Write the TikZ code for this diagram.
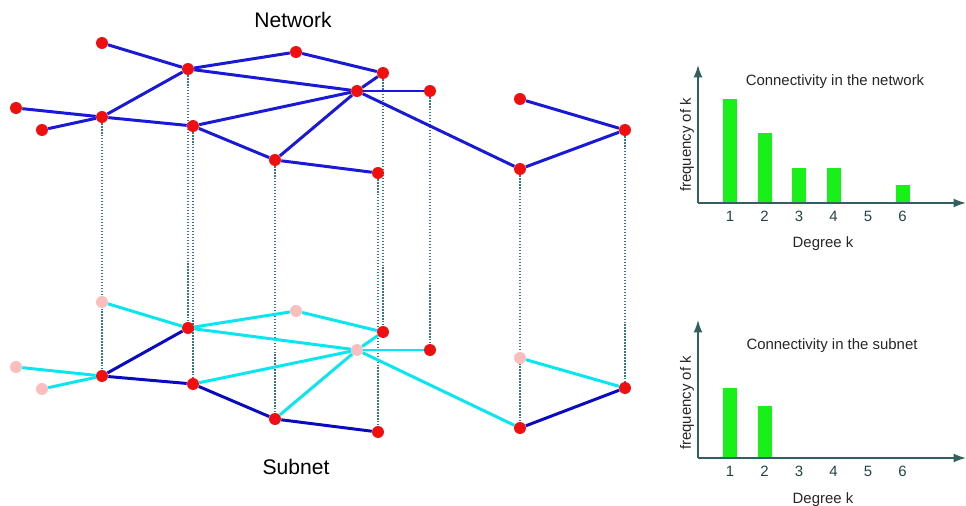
\documentclass[tikz,border=0pt]{standalone}
\usepackage{fontspec}
\setmainfont{Liberation Sans}
\usetikzlibrary{arrows.meta}
\definecolor{netblue}{RGB}{25,25,215}
\definecolor{subblue}{RGB}{10,10,195}
\definecolor{subcyan}{RGB}{10,230,240}
\definecolor{dotred}{RGB}{240,15,15}
\definecolor{dotpink}{RGB}{250,190,190}
\definecolor{droptl}{RGB}{55,120,130}
\definecolor{axisgray}{RGB}{50,95,95}
\definecolor{bargreen}{RGB}{25,240,25}
\pgfdeclarelayer{background}
\pgfsetlayers{background,main}
\begin{document}
\begin{tikzpicture}[x=0.02cm,y=-0.02cm,
  dot/.style={circle,fill=dotred,inner sep=0pt,minimum size=6.8pt},
  pale/.style={circle,fill=dotpink,inner sep=0pt,minimum size=6.8pt},
  link/.style={netblue,line width=1.7pt},
  sublink/.style={subblue,line width=1.7pt},
  faint/.style={subcyan,line width=1.7pt},
  drop/.style={droptl,densely dotted,line width=0.7pt},
  axis/.style={axisgray,line width=0.9pt,-{Latex[length=7pt,width=5pt]}},
  bar/.style={fill=bargreen},
  lbl/.style={font=\fontsize{8.5}{10}\selectfont,text=black!85},
  num/.style={font=\fontsize{8.5}{10}\selectfont,text=axisgray!70!black},
  title/.style={font=\fontsize{12}{14}\selectfont}]
\useasboundingbox (0,0) rectangle (966,506);
\node[title] (net) at (293,20) {Network};
\node[title] (sub) at (296,467) {Subnet};
\node[dot] (n1) at (102,43) {};
\node[dot] (n2) at (188,69) {};
\node[dot] (n3) at (296,52) {};
\node[dot] (n4) at (383,73) {};
\node[dot] (n5) at (357,91) {};
\node[dot] (n6) at (430,91) {};
\node[dot] (n7) at (16,108) {};
\node[dot] (n8) at (42,130) {};
\node[dot] (n9) at (102,117) {};
\node[dot] (n10) at (193,126) {};
\node[dot] (n11) at (275,160) {};
\node[dot] (n12) at (378,173) {};
\node[dot] (n13) at (520,99) {};
\node[dot] (n14) at (625,130) {};
\node[dot] (n15) at (520,169) {};
\draw[link] (n1) -- (n2);
\draw[link] (n2) -- (n3);
\draw[link] (n3) -- (n4);
\draw[link] (n2) -- (n5);
\draw[link] (n4) -- (n5);
\draw[link] (n5) -- (n6);
\draw[link] (n2) -- (n9);
\draw[link] (n7) -- (n9);
\draw[link] (n8) -- (n9);
\draw[link] (n9) -- (n10);
\draw[link] (n10) -- (n5);
\draw[link] (n10) -- (n11);
\draw[link] (n11) -- (n5);
\draw[link] (n11) -- (n12);
\draw[link] (n5) -- (n15);
\draw[link] (n15) -- (n14);
\draw[link] (n13) -- (n14);
\node[pale] (s1) at (102,302) {};
\node[dot] (s2) at (188,328) {};
\node[pale] (s3) at (296,311) {};
\node[dot] (s4) at (383,332) {};
\node[pale] (s5) at (357,350) {};
\node[dot] (s6) at (430,350) {};
\node[pale] (s7) at (16,367) {};
\node[pale] (s8) at (42,389) {};
\node[dot] (s9) at (102,376) {};
\node[dot] (s10) at (193,384) {};
\node[dot] (s11) at (275,419) {};
\node[dot] (s12) at (378,432) {};
\node[pale] (s13) at (520,358) {};
\node[dot] (s14) at (625,388) {};
\node[dot] (s15) at (520,428) {};
\begin{pgfonlayer}{background}
\draw[drop] (n9) -- (s9);
\draw[drop] (n2) -- (s2);
\draw[drop] (n10) -- (s10);
\draw[drop] (n11) -- (s11);
\draw[drop] (n12) -- (s12);
\draw[drop] (n4) -- (s4);
\draw[drop] (n6) -- (s6);
\draw[drop] (n15) -- (s15);
\draw[drop] (n14) -- (s14);
\end{pgfonlayer}
\draw[faint] (s1) -- (s2);
\draw[faint] (s2) -- (s3);
\draw[faint] (s3) -- (s4);
\draw[faint] (s2) -- (s5);
\draw[faint] (s4) -- (s5);
\draw[faint] (s5) -- (s6);
\draw[faint] (s7) -- (s9);
\draw[faint] (s8) -- (s9);
\draw[faint] (s10) -- (s5);
\draw[faint] (s11) -- (s5);
\draw[faint] (s5) -- (s15);
\draw[faint] (s13) -- (s14);
\draw[sublink] (s9) -- (s2);
\draw[sublink] (s9) -- (s10);
\draw[sublink] (s10) -- (s11);
\draw[sublink] (s11) -- (s12);
\draw[sublink] (s15) -- (s14);
\coordinate (o1) at (698,203);
\foreach \k/\t in {1/99,2/133,3/168,4/168,6/185}
  \fill[bar] ({730+34.5*(\k-1)-7},203) rectangle ({730+34.5*(\k-1)+7},\t);
\draw[axis] (o1) -- (698,65);
\draw[axis] (o1) -- (966,203);
\foreach \k in {1,...,6}
  \node[num] (a\k) at ({730+34.5*(\k-1)},216) {\k};
\node[lbl] (ta) at (835,82) {Connectivity in the network};
\node[lbl] (xa) at (823,244) {Degree k};
\node[lbl,rotate=90] (ya) at (687,145) {frequency of k};
\coordinate (o2) at (698,458);
\foreach \k/\t in {1/388,2/406}
  \fill[bar] ({730+34.5*(\k-1)-7},458) rectangle ({730+34.5*(\k-1)+7},\t);
\draw[axis] (o2) -- (698,320);
\draw[axis] (o2) -- (966,458);
\foreach \k in {1,...,6}
  \node[num] (b\k) at ({730+34.5*(\k-1)},471) {\k};
\node[lbl] (tb) at (832,346) {Connectivity in the subnet};
\node[lbl] (xb) at (823,500) {Degree k};
\node[lbl,rotate=90] (yb) at (687,403) {frequency of k};
\end{tikzpicture}
\end{document}
